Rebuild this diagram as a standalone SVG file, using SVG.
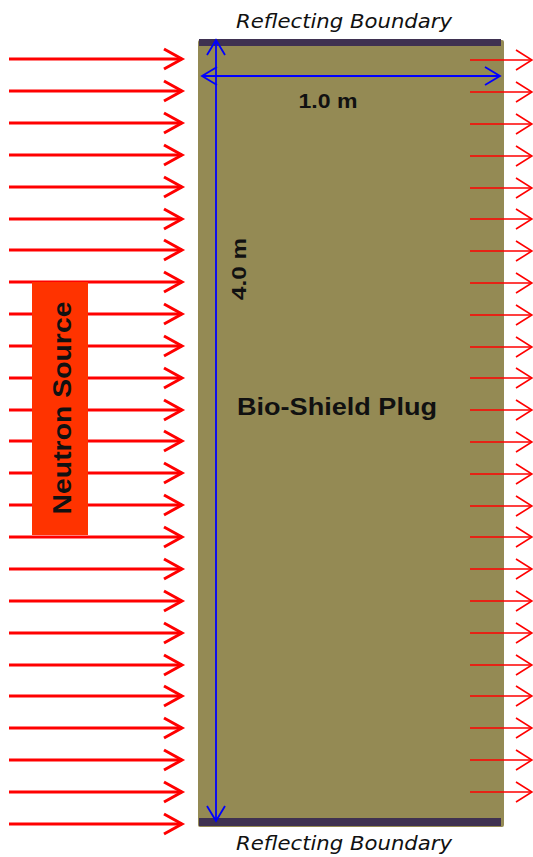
<svg xmlns="http://www.w3.org/2000/svg" width="533" height="857" viewBox="0 0 533 857">
<style>
.in{stroke:#FF0000;stroke-width:3;fill:none}
.out{stroke:#FF0000;stroke-width:1.6;fill:none}
.dim{stroke:#0000FF;stroke-width:1.8;fill:none}
.lbl{font-family:"Liberation Sans",Arial,sans-serif;font-weight:bold;fill:#111}
.rb{font-family:"DejaVu Sans",Verdana,sans-serif;font-style:italic;font-size:20px;fill:#111;text-anchor:middle}
</style>
<defs>
<marker id="ahIn" markerUnits="userSpaceOnUse" markerWidth="24" markerHeight="26" refX="20" refY="12" orient="auto" overflow="visible">
<path d="M2,2 L20,12 L2,22" stroke="#FF0000" stroke-width="3" fill="none"/>
</marker>
<marker id="ahOut" markerUnits="userSpaceOnUse" markerWidth="20" markerHeight="24" refX="17" refY="11" orient="auto" overflow="visible">
<path d="M1,1 L17,11 L1,21" stroke="#FF0000" stroke-width="1.6" fill="none"/>
</marker>
<marker id="ahDim" markerUnits="userSpaceOnUse" markerWidth="20" markerHeight="24" refX="16" refY="10" orient="auto-start-reverse" overflow="visible">
<path d="M1,1 L16,10 L1,19" stroke="#0000FF" stroke-width="1.8" fill="none"/>
</marker>
</defs>

<g id="plug">
<rect x="198" y="40" width="306" height="787" rx="2" fill="#948A54"/>
<text class="lbl" x="337" y="415" font-size="24" text-anchor="middle" textLength="200" lengthAdjust="spacingAndGlyphs">Bio-Shield Plug</text>
</g>

<g id="top-boundary">
<rect x="199" y="39" width="302" height="7" fill="#3F3151"/>
<text class="rb" x="344" y="28" textLength="216" lengthAdjust="spacingAndGlyphs">Reflecting Boundary</text>
</g>

<g id="bottom-boundary">
<rect x="199" y="818" width="302" height="8" fill="#3F3151"/>
<text class="rb" x="344" y="850" textLength="216" lengthAdjust="spacingAndGlyphs">Reflecting Boundary</text>
</g>

<g id="connectors">
<g id="incident">
<line class="in" x1="9" y1="59" x2="182" y2="59" marker-end="url(#ahIn)"/>
<line class="in" x1="9" y1="91" x2="182" y2="91" marker-end="url(#ahIn)"/>
<line class="in" x1="9" y1="123" x2="182" y2="123" marker-end="url(#ahIn)"/>
<line class="in" x1="9" y1="155" x2="182" y2="155" marker-end="url(#ahIn)"/>
<line class="in" x1="9" y1="187" x2="182" y2="187" marker-end="url(#ahIn)"/>
<line class="in" x1="9" y1="219" x2="182" y2="219" marker-end="url(#ahIn)"/>
<line class="in" x1="9" y1="250" x2="182" y2="250" marker-end="url(#ahIn)"/>
<line class="in" x1="9" y1="282" x2="182" y2="282" marker-end="url(#ahIn)"/>
<line class="in" x1="9" y1="314" x2="182" y2="314" marker-end="url(#ahIn)"/>
<line class="in" x1="9" y1="346" x2="182" y2="346" marker-end="url(#ahIn)"/>
<line class="in" x1="9" y1="378" x2="182" y2="378" marker-end="url(#ahIn)"/>
<line class="in" x1="9" y1="410" x2="182" y2="410" marker-end="url(#ahIn)"/>
<line class="in" x1="9" y1="441" x2="182" y2="441" marker-end="url(#ahIn)"/>
<line class="in" x1="9" y1="473" x2="182" y2="473" marker-end="url(#ahIn)"/>
<line class="in" x1="9" y1="505" x2="182" y2="505" marker-end="url(#ahIn)"/>
<line class="in" x1="9" y1="537" x2="182" y2="537" marker-end="url(#ahIn)"/>
<line class="in" x1="9" y1="569" x2="182" y2="569" marker-end="url(#ahIn)"/>
<line class="in" x1="9" y1="601" x2="182" y2="601" marker-end="url(#ahIn)"/>
<line class="in" x1="9" y1="633" x2="182" y2="633" marker-end="url(#ahIn)"/>
<line class="in" x1="9" y1="665" x2="182" y2="665" marker-end="url(#ahIn)"/>
<line class="in" x1="9" y1="696" x2="182" y2="696" marker-end="url(#ahIn)"/>
<line class="in" x1="9" y1="728" x2="182" y2="728" marker-end="url(#ahIn)"/>
<line class="in" x1="9" y1="760" x2="182" y2="760" marker-end="url(#ahIn)"/>
<line class="in" x1="9" y1="792" x2="182" y2="792" marker-end="url(#ahIn)"/>
<line class="in" x1="9" y1="824" x2="182" y2="824" marker-end="url(#ahIn)"/>
</g>
<g id="transmitted">
<line class="out" x1="470" y1="60" x2="532" y2="60" marker-end="url(#ahOut)"/>
<line class="out" x1="470" y1="92" x2="532" y2="92" marker-end="url(#ahOut)"/>
<line class="out" x1="470" y1="124" x2="532" y2="124" marker-end="url(#ahOut)"/>
<line class="out" x1="470" y1="156" x2="532" y2="156" marker-end="url(#ahOut)"/>
<line class="out" x1="470" y1="188" x2="532" y2="188" marker-end="url(#ahOut)"/>
<line class="out" x1="470" y1="219" x2="532" y2="219" marker-end="url(#ahOut)"/>
<line class="out" x1="470" y1="251" x2="532" y2="251" marker-end="url(#ahOut)"/>
<line class="out" x1="470" y1="283" x2="532" y2="283" marker-end="url(#ahOut)"/>
<line class="out" x1="470" y1="315" x2="532" y2="315" marker-end="url(#ahOut)"/>
<line class="out" x1="470" y1="347" x2="532" y2="347" marker-end="url(#ahOut)"/>
<line class="out" x1="470" y1="378" x2="532" y2="378" marker-end="url(#ahOut)"/>
<line class="out" x1="470" y1="410" x2="532" y2="410" marker-end="url(#ahOut)"/>
<line class="out" x1="470" y1="442" x2="532" y2="442" marker-end="url(#ahOut)"/>
<line class="out" x1="470" y1="474" x2="532" y2="474" marker-end="url(#ahOut)"/>
<line class="out" x1="470" y1="506" x2="532" y2="506" marker-end="url(#ahOut)"/>
<line class="out" x1="470" y1="537" x2="532" y2="537" marker-end="url(#ahOut)"/>
<line class="out" x1="470" y1="569" x2="532" y2="569" marker-end="url(#ahOut)"/>
<line class="out" x1="470" y1="601" x2="532" y2="601" marker-end="url(#ahOut)"/>
<line class="out" x1="470" y1="633" x2="532" y2="633" marker-end="url(#ahOut)"/>
<line class="out" x1="470" y1="665" x2="532" y2="665" marker-end="url(#ahOut)"/>
<line class="out" x1="470" y1="696" x2="532" y2="696" marker-end="url(#ahOut)"/>
<line class="out" x1="470" y1="728" x2="532" y2="728" marker-end="url(#ahOut)"/>
<line class="out" x1="470" y1="760" x2="532" y2="760" marker-end="url(#ahOut)"/>
<line class="out" x1="470" y1="792" x2="532" y2="792" marker-end="url(#ahOut)"/>
</g>
</g>

<g id="source">
<rect x="32" y="282" width="56" height="253" fill="#FF3300"/>
<text class="lbl" font-size="25" text-anchor="middle" textLength="213" lengthAdjust="spacingAndGlyphs" transform="translate(71,408) rotate(-90)">Neutron Source</text>
</g>

<g id="dimensions">
<line class="dim" x1="202" y1="76" x2="500" y2="76" marker-start="url(#ahDim)" marker-end="url(#ahDim)"/>
<line class="dim" x1="216" y1="40" x2="216" y2="821" marker-start="url(#ahDim)" marker-end="url(#ahDim)"/>
<text class="lbl" x="328" y="108" font-size="20" text-anchor="middle" textLength="59" lengthAdjust="spacingAndGlyphs">1.0 m</text>
<text class="lbl" font-size="20" text-anchor="middle" textLength="62" lengthAdjust="spacingAndGlyphs" transform="translate(246,269) rotate(-90)">4.0 m</text>
</g>
</svg>
